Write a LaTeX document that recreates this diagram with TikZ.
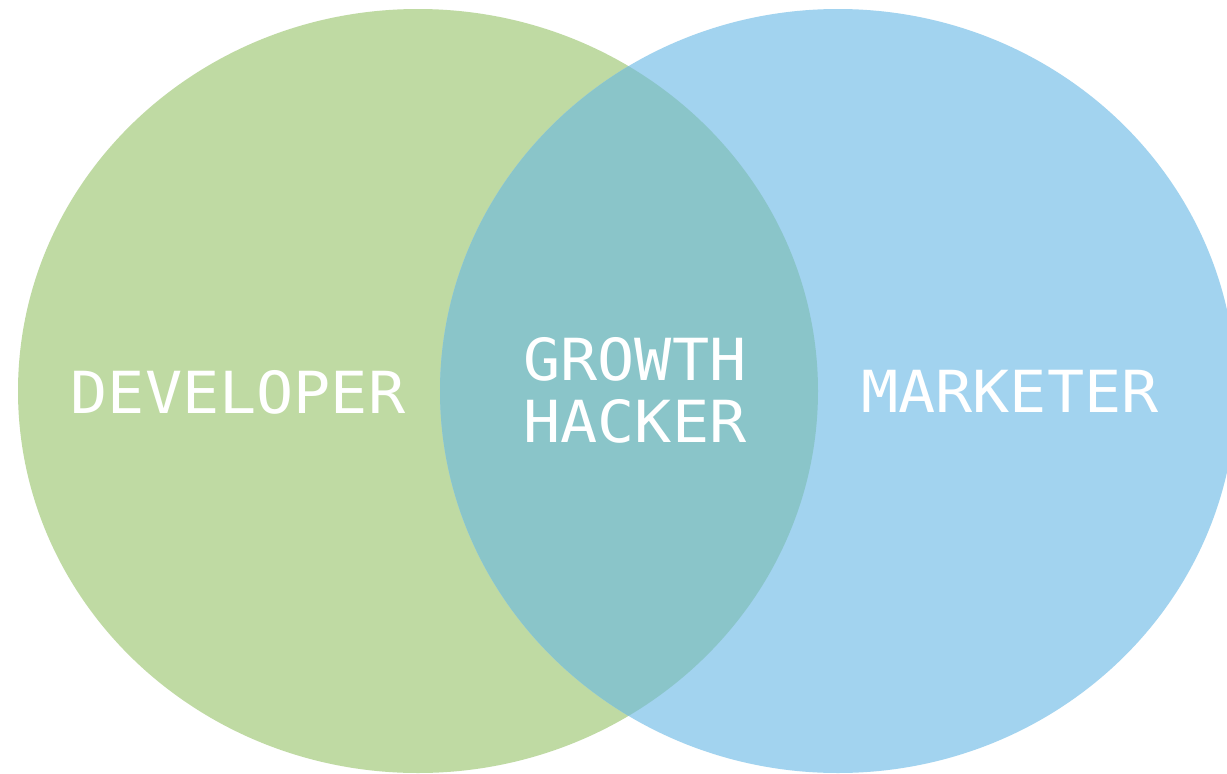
\documentclass[tikz,border=0pt]{standalone}
\usepackage{fontspec}
\newfontfamily\labelfont[FakeStretch=1.065]{DejaVu Sans Mono}
\definecolor{devgreen}{HTML}{BFDAA3}
\definecolor{mktblue}{HTML}{A2D3EF}
\definecolor{overlapteal}{HTML}{8AC5C9}
\tikzset{
  setlabel/.style={text=white, font=\labelfont\fontsize{58}{62}\selectfont, inner sep=0pt, align=center}
}
\begin{document}
\begin{tikzpicture}[x=1pt,y=-1pt]
\useasboundingbox (0,0) rectangle (1227,774);
\fill[white] (0,0) rectangle (1227,774);
\fill[devgreen] (418,391) ellipse [x radius=400pt, y radius=382pt];
\fill[mktblue] (838,391) ellipse [x radius=398pt, y radius=382pt];
\begin{scope}
  \clip (418,391) ellipse [x radius=400pt, y radius=382pt];
  \fill[overlapteal] (838,391) ellipse [x radius=398pt, y radius=382pt];
\end{scope}
\node[setlabel, anchor=base] (dev) at (238,413) {DEVELOPER};
\node[setlabel, anchor=base] (gh) at (635,442) {GROWTH\\HACKER};
\node[setlabel, anchor=base] (mkt) at (1010,412) {MARKETER};
\end{tikzpicture}
\end{document}
